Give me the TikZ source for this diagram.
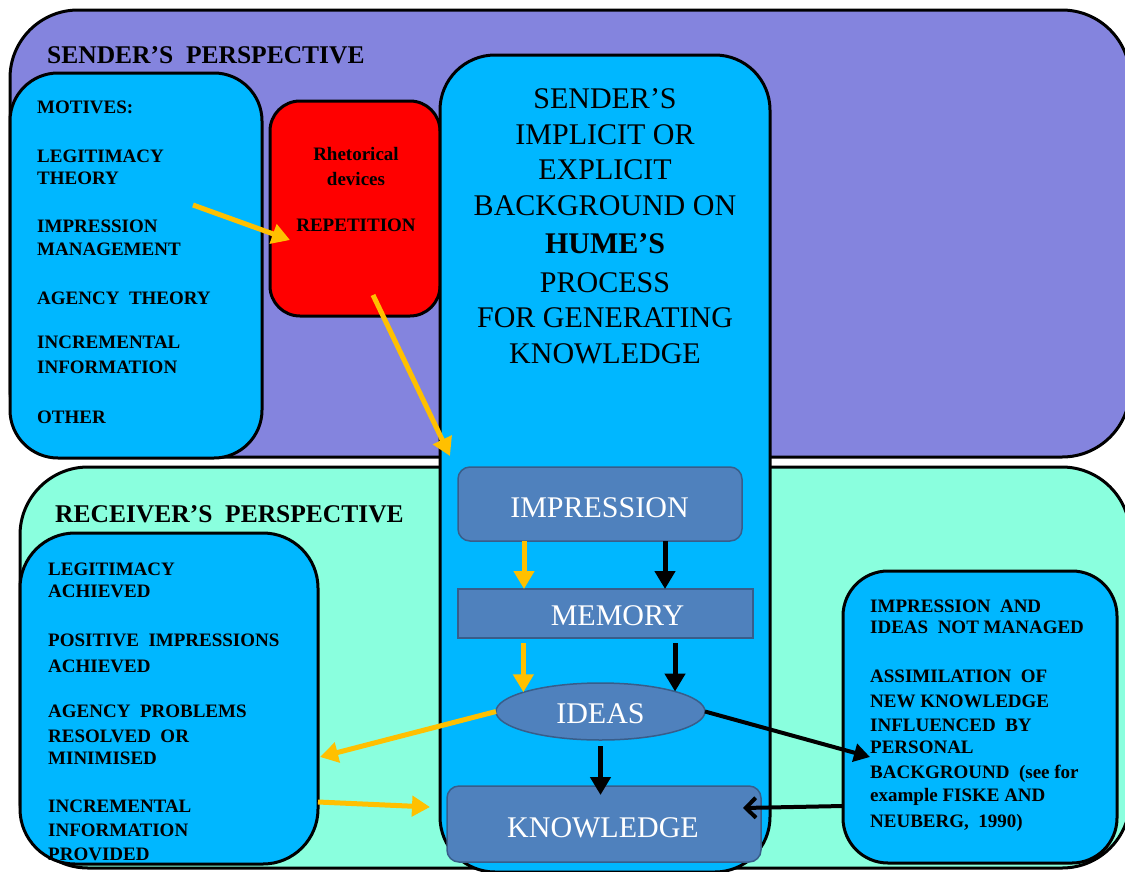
\documentclass[tikz,border=0pt]{standalone}
\usepackage{fontspec}
\setmainfont{Liberation Serif}
\usetikzlibrary{arrows.meta,shapes.geometric}
\definecolor{sendbg}{RGB}{132,132,222}
\definecolor{recvbg}{RGB}{138,255,222}
\definecolor{skyb}{RGB}{0,183,255}
\definecolor{steel}{RGB}{79,129,189}
\definecolor{steelb}{RGB}{56,93,138}
\definecolor{amber}{RGB}{255,192,0}
\newcommand\dsp{\hspace{0.5em}}
\tikzset{
  region/.style={draw=black, line width=3pt, inner sep=0pt, outer sep=0pt},
  proc/.style={draw=steelb, fill=steel, line width=1.5pt, inner sep=0pt, outer sep=0pt},
  lb/.style={font=\fontsize{19}{22}\selectfont\bfseries, anchor=base west, inner sep=0pt},
  lbc/.style={font=\fontsize{19}{22}\selectfont\bfseries, anchor=base, inner sep=0pt},
  ttl/.style={font=\fontsize{25.5}{30}\selectfont\bfseries, anchor=base west, inner sep=0pt},
  big/.style={font=\fontsize{30}{36}\selectfont, anchor=base, inner sep=0pt},
  wbig/.style={big, text=white},
  yarr/.style={draw=amber, line width=5pt, -{Triangle[length=18pt,width=20pt]}},
  karr/.style={draw=black, line width=5pt, -{Triangle[length=18pt,width=20pt]}},
}
\begin{document}
\begin{tikzpicture}[x=1pt,y=-1pt]
\useasboundingbox (0,0) rectangle (1125,871);
\clip (0,0) rectangle (1125,871);
% regions
\node[region, fill=sendbg, rounded corners=68pt, minimum width=1120pt, minimum height=447pt] (sender) at (570,233.5) {};
\node[region, fill=recvbg, rounded corners=68pt, minimum width=1110pt, minimum height=401pt] (receiver) at (575,667.5) {};
% boxes
\node[region, fill=skyb, rounded corners=48pt, minimum width=252pt, minimum height=385pt] (motives) at (136,265.5) {};
\node[region, fill=red, rounded corners=30pt, minimum width=170pt, minimum height=215pt] (rhet) at (355,208.5) {};
\node[region, fill=skyb, rounded corners=55pt, minimum width=330pt, minimum height=817pt] (hume) at (605,463.5) {};
\node[region, fill=skyb, rounded corners=55pt, minimum width=298pt, minimum height=331pt] (lrecv) at (169,698.5) {};
\node[region, fill=skyb, rounded corners=45pt, minimum width=274pt, minimum height=292pt] (rbox) at (980,717) {};
% process nodes
\node[proc, rounded corners=12pt, minimum width=284pt, minimum height=74pt] (imp) at (600,504) {};
\node[proc, minimum width=295pt, minimum height=49pt] (mem) at (605.5,613.5) {};
\node[proc, ellipse, minimum width=209pt, minimum height=57pt] (ideas) at (600.5,711.5) {};
\node[proc, rounded corners=12pt, minimum width=314pt, minimum height=76pt] (know) at (604,824) {};
% process labels
\node[wbig] (timp) at (599.5,517) {IMPRESSION};
\node[wbig] (tmem) at (617.5,625) {MEMORY};
\node[wbig] (tideas) at (600.5,723) {IDEAS};
\node[wbig] (tknow) at (603,837) {KNOWLEDGE};
% titles
\node[ttl] (tsend) at (47,63) {SENDER’S\dsp PERSPECTIVE};
\node[ttl] (trecv) at (55,522) {RECEIVER’S\dsp PERSPECTIVE};
% hume text
\foreach \t/\yy [count=\i] in {SENDER’S/108, IMPLICIT OR/144, EXPLICIT/179, BACKGROUND ON/215, {\textbf{HUME’S}}/253, PROCESS/292, FOR GENERATING/327, KNOWLEDGE/363}
  \node[big] (h\i) at (605,\yy) {\t};
% motives text
\foreach \t/\yy [count=\i] in {MOTIVES:/113, LEGITIMACY/162, THEORY/184, IMPRESSION/232, MANAGEMENT/255, AGENCY\dsp THEORY/304, INCREMENTAL/348, INFORMATION/373, OTHER/423}
  \node[lb] (m\i) at (37,\yy) {\t};
% rhetorical text
\node[lbc] (r1) at (356,160) {Rhetorical};
\node[lbc] (r2) at (356,185) {devices};
\node[lbc] (r3) at (356,231) {REPETITION};
% receiver left text
\foreach \t/\yy [count=\i] in {LEGITIMACY/575, ACHIEVED/597, POSITIVE\dsp IMPRESSIONS/646, ACHIEVED/672, AGENCY\dsp PROBLEMS/717, RESOLVED\dsp OR/742, MINIMISED/764, INCREMENTAL/812, INFORMATION/836, PROVIDED/860}
  \node[lb] (l\i) at (48,\yy) {\t};
% right box text
\foreach \t/\yy [count=\i] in {IMPRESSION\dsp AND/612, IDEAS\dsp NOT MANAGED/633, ASSIMILATION\dsp OF/682, NEW KNOWLEDGE/707, INFLUENCED\dsp BY/731, PERSONAL/753, {BACKGROUND\dsp (see for}/778, example FISKE AND/801, {NEUBERG,\dsp 1990)}/827}
  \node[lb] (rt\i) at (870,\yy) {\t};
% connector end points
\coordinate (y1s) at (193,205);
\coordinate (y1e) at (290,240);
\coordinate (y2s) at (373,295);
\coordinate (y2e) at (450,456);
\coordinate (y6e) at (430,807);
\coordinate (k4e) at (870,757);
\coordinate (k5s) at (843,806);
\coordinate (k5e) at (743,808);
% arrows
\draw[yarr] (y1s) -- (y1e);
\draw[yarr] (y2s) -- (y2e);
\draw[yarr] ([xshift=-76pt]imp.south) -- ([xshift=-76pt]imp.south |- mem.north);
\draw[karr] ([xshift=65pt]imp.south) -- ([xshift=65pt]imp.south |- mem.north);
\draw[yarr] ([yshift=-5pt]ideas.166 |- mem.south) -- (ideas.166);
\draw[karr] ([yshift=-5pt]ideas.15 |- mem.south) -- (ideas.15);
\draw[karr] ([yshift=-6pt]ideas.south) -- ([yshift=-9pt]ideas.south |- know.north);
\draw[yarr] (ideas.west) -- ([xshift=2pt,yshift=-58.5pt]lrecv.east);
\draw[yarr] ([yshift=-103.5pt]lrecv.east) -- (y6e);
\draw[draw=black, line width=4pt, -{Triangle[length=16pt,width=18pt]}] (ideas.east) -- (k4e);
\draw[draw=black, line width=4pt, -{Straight Barb[length=10pt,width=20pt]}] (k5s) -- (k5e);
\end{tikzpicture}
\end{document}
